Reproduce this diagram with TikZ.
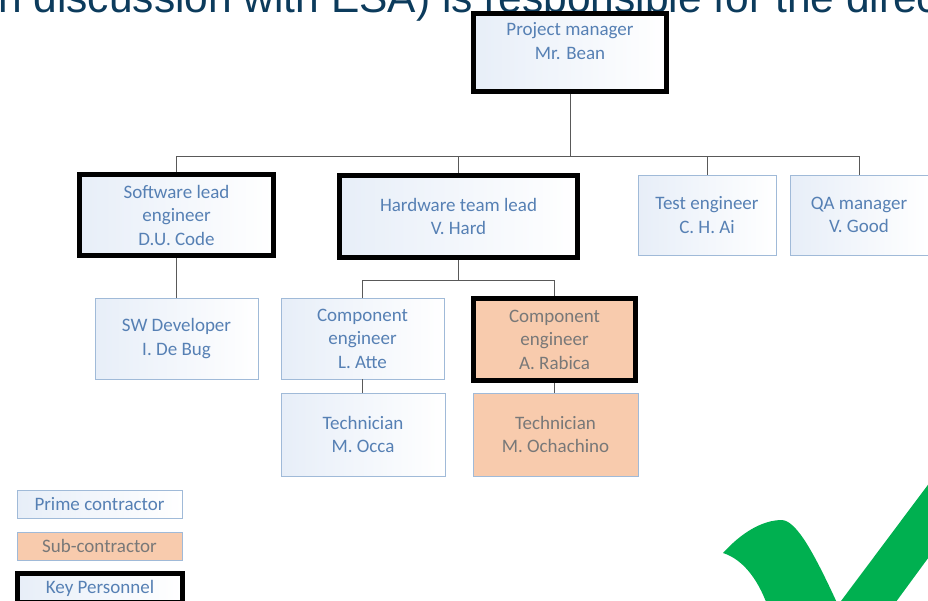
\documentclass[tikz,border=0pt]{standalone}
\usepackage{fontspec}
\setmainfont{Carlito}
\newfontfamily\headfont{Liberation Sans}
\usetikzlibrary{positioning}
\usetikzlibrary{calc}
\definecolor{boxline}{RGB}{160,186,216}
\definecolor{boxblue}{RGB}{231,238,248}
\definecolor{txtblue}{RGB}{86,128,180}
\definecolor{txtgray}{RGB}{120,120,120}
\definecolor{subfill}{RGB}{248,203,173}
\definecolor{linkgray}{RGB}{89,89,89}
\definecolor{headcol}{RGB}{12,59,92}
\definecolor{tickgreen}{RGB}{0,176,80}
\tikzset{box/.style={rectangle, draw=boxline, line width=0.8pt, inner sep=0pt, align=center, font=\fontsize{19}{23.5}\selectfont}}
\tikzset{prime/.style={box, left color=boxblue, right color=white, text=txtblue}}
\tikzset{sub/.style={box, fill=subfill, text=txtgray}}
\tikzset{keyp/.style={draw=black, line width=5pt}}
\tikzset{link/.style={draw=linkgray, line width=1pt}}
\tikzset{heading/.style={text=headcol, inner sep=0pt, font=\headfont\fontsize{42.5}{48}\selectfont}}

\begin{document}
\begin{tikzpicture}[x=1pt, y=-1pt]

    \useasboundingbox (0,0) rectangle (928,600);
    \clip (0,0) rectangle (928,600);
    \fill [white] (0,0) rectangle (928,600);

    % Slide title, cut off at the top.
    \node [heading, anchor=base west] (head) at (-2,12) {n discussion with ESA) is responsible for the direc};

    % Top level.
    \node [prime, keyp, minimum width=193pt, minimum height=78pt] (pm) at (570,52.5) {Project manager\\Mr. Bean\\ \mbox{}};

    % Second level.
    \node [prime, keyp, minimum width=194pt, minimum height=81pt] (swlead) at (176.5,215) {Software lead\\engineer\\D.U. Code};
    \node [prime, keyp, minimum width=238pt, minimum height=82pt] (hwlead) at (458.5,216.5) {Hardware team lead\\V. Hard};
    \node [prime, minimum width=138pt, minimum height=80pt] (test) at (707,215) {Test engineer\\C. H. Ai};
    \node [prime, minimum width=138pt, minimum height=80pt] (qa) at (859,215) {QA manager\\V. Good};

    % Third level.
    \node [prime, minimum width=163pt, minimum height=81pt] (swdev) at (176.5,338.5) {SW Developer\\I. De Bug};
    \node [prime, minimum width=163pt, minimum height=81pt] (comp1) at (362.5,338.5) {Component\\engineer\\L. Atte};
    \node [sub, keyp, minimum width=162pt, minimum height=82pt] (comp2) at (554.5,339.5) {Component\\engineer\\A. Rabica};

    % Fourth level.
    \node [prime, minimum width=164pt, minimum height=83pt] (tech1) at (363,434.5) {Technician\\M. Occa};
    \node [sub, minimum width=165pt, minimum height=83pt] (tech2) at (555.5,434.5) {Technician\\M. Ochachino};

    % Legend.
    \node [prime, minimum width=165pt, minimum height=28pt] (lprime) at (99.5,504) {Prime contractor};
    \node [sub, minimum width=165pt, minimum height=28pt] (lsub) at (99.5,546) {Sub-contractor};
    \node [prime, keyp, minimum width=165pt, minimum height=29pt] (lkey) at (100,588) {Key Personnel};

    % Coordinates for the branch lines.
    \coordinate (bus) at ($(pm.south) + (0,62.5)$);
    \coordinate (hwbus) at ($(hwlead.south) + (0,20.5)$);

    % Lines from project manager to the leads.
    \draw [link] (pm.south) -- (bus);
    \draw [link] (swlead.north) |- (bus);
    \draw [link] (hwlead.north) |- (bus);
    \draw [link] (test.north) |- (bus);
    \draw [link] (qa.north) |- (bus);

    % Lines from leads to engineers.
    \draw [link] (swlead) -- (swdev);
    \draw [link] (hwlead.south) -- (hwbus);
    \draw [link] (comp1.north) |- (hwbus);
    \draw [link] (comp2.north) |- (hwbus);

    % Lines from engineers to technicians.
    \draw [link] (comp1.south) -- (comp1.south |- tech1.north);
    \draw [link] (comp2.south) -- (comp2.south |- tech2.north);

    % Green tick, cut off by the slide edge.
    \fill [tickgreen] (723,553) .. controls (742,532) and (763,520) .. (782,520)
        .. controls (797,521) and (815,555) .. (838,605) -- (945,462) -- (945,535)
        -- (890,610) -- (769,610) .. controls (760,583) and (745,560) .. (723,553) -- cycle;

\end{tikzpicture}
\end{document}
